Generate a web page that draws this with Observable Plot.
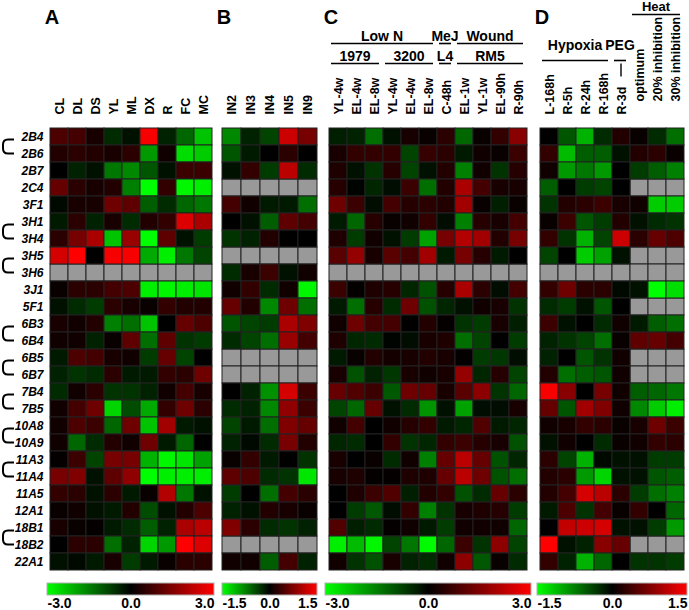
<!DOCTYPE html>
<html><head><meta charset="utf-8">
<script src="https://cdn.jsdelivr.net/npm/d3@7"></script>
<script src="https://cdn.jsdelivr.net/npm/@observablehq/plot@0.6"></script>
<style>
body{margin:0;background:#fff;}
#chart{position:relative;width:689px;height:610px;overflow:hidden;background:#fff;}
</style></head><body><div id="chart"></div><script>
// ---------- data ----------
const genes = ["2B4","2B6","2B7","2C4","3F1","3H1","3H4","3H5","3H6","3J1","5F1","6B3","6B4","6B5","6B7","7B4","7B5","10A8","10A9","11A3","11A4","11A5","12A1","18B1","18B2","22A1"];
const brackets = [["2B4","2B6"],["3H1","3H4"],["3H5","3H6"],["6B3","6B4"],["6B5","6B7"],["7B4","7B5"],["10A8","10A9"],["11A3","11A4"],["18B1","18B2"]];

const colsA = ["CL","DL","DS","YL","ML","DX","R","FC","MC"];
const colsB = ["IN2","IN3","IN4","IN5","IN9"];
const colsC = ["YL-4w","EL-4w","EL-8w","YL-4w","EL-4w","EL-8w","C-48h","EL-1w","YL-1w","EL-90h","R-90h"];
const colsD = ["L-168h","R-5h","R-24h","R-168h","R-3d","optimum","20% inhibition","30% inhibition"];

const N = null;
const valuesA = [
 [0.9,0.8,0.3,-0.5,-0.2,2.9,-0.4,-1.2,-2.3],
 [0.4,0.5,0.4,0.3,0.5,-1.8,0.2,-2.6,-2.4],
 [0.0,-0.4,-0.2,-1.4,-1.6,-1.0,-0.2,0.7,0.7],
 [1.2,0.5,0.3,0.4,-1.5,-3.0,0.6,-2.9,-2.8],
 [-0.1,0.3,0.3,1.3,1.1,-1.1,-0.5,-1.2,-1.4],
 [-0.3,0.5,-0.4,0.3,-0.5,0.4,0.6,2.6,2.0],
 [0.5,1.4,2.0,-2.3,1.8,-3.0,1.1,-0.2,-0.7],
 [2.5,3.0,0.0,2.9,2.9,-2.0,-2.8,-1.4,-0.8],
 [N,N,N,N,N,N,N,N,N],
 [0.1,0.5,0.5,0.8,0.9,-2.8,-2.9,-2.8,-2.7],
 [-0.2,-0.5,-0.7,0.5,0.3,0.1,0.6,0.4,0.4],
 [0.3,0.2,0.4,-1.5,-1.3,-2.3,0.0,1.2,0.9],
 [0.2,0.2,-0.4,0.1,1.1,-1.3,1.1,-0.6,-0.7],
 [-0.3,0.9,0.8,0.3,0.2,-0.7,1.2,-0.8,0.0],
 [-0.4,-0.6,-0.5,0.5,-0.3,-0.3,0.6,0.5,1.3],
 [-0.5,0.2,0.5,-0.6,-0.6,-0.4,0.2,0.8,0.3],
 [0.2,0.8,1.3,-2.5,-0.9,-2.0,0.6,1.3,0.5],
 [0.2,0.9,0.7,-1.2,1.3,-2.3,1.9,-0.3,-0.2],
 [0.2,-1.2,-0.5,0.4,0.2,1.3,-0.3,-1.2,0.0],
 [0.05,0.7,-0.8,1.4,1.4,-2.1,-2.9,-2.7,-1.9],
 [1.4,1.5,-0.2,1.1,1.7,-3.0,-2.8,-2.8,-2.8],
 [0.6,0.5,-0.2,0.5,-0.3,0.1,2.1,-1.4,-0.2],
 [0.1,0.2,-0.2,-0.3,0.4,-0.9,-0.2,0.4,0.9],
 [0.3,0.1,0.05,-0.3,-0.5,-1.1,-0.4,2.0,2.2],
 [0.0,0.5,0.5,-1.3,-0.4,-2.5,-1.8,3.0,2.6],
 [-0.2,-0.1,-0.3,0.3,-0.7,-0.3,0.1,0.5,0.5]
];
const valuesB = [
 [-0.8,-0.2,-0.4,1.2,0.7],
 [-0.5,-0.15,0.0,0.25,0.0],
 [-0.1,0.3,-0.35,1.1,-0.25],
 [N,N,N,N,N],
 [0.4,0.1,-0.15,-0.15,-0.65],
 [0.0,-0.1,-0.55,0.55,0.4],
 [-0.3,-0.2,0.2,0.0,0.0],
 [N,N,N,N,N],
 [-0.25,0.15,0.35,-0.1,0.1],
 [0.1,0.3,-0.25,0.1,-1.45],
 [0.6,0.2,-0.8,0.65,-0.65],
 [-0.5,-0.4,-0.35,1.0,0.75],
 [-0.25,-0.4,-0.65,0.9,0.4],
 [N,N,N,N,N],
 [N,N,N,N,N],
 [0.0,-0.2,-0.85,1.25,0.35],
 [-0.25,-0.2,-0.8,0.85,0.35],
 [-0.4,-0.15,-0.65,0.75,0.6],
 [-0.2,-0.05,-0.25,0.7,0.2],
 [0.05,0.3,-0.15,0.0,-0.3],
 [0.55,0.45,-0.25,-0.3,-1.35],
 [-0.35,0.0,-0.65,0.4,0.25],
 [-0.2,-0.1,0.2,0.15,0.05],
 [0.75,0.25,-0.25,-0.3,-0.2],
 [N,N,N,N,N],
 [0.1,0.1,-0.55,0.4,-0.2]
];
const valuesC = [
 [-0.35,-0.4,-1.3,-0.2,0.3,0.1,0.5,-1.2,0.1,0.6,1.6],
 [0.3,0.6,0.6,0.6,-0.8,0.65,0.5,-0.3,0.2,0.1,0.7],
 [0.35,-0.2,-0.6,0.45,-0.8,-0.2,0.4,-1.5,0.2,-0.6,0.45],
 [0.45,-0.05,-0.45,-0.15,0.7,-1.3,0.4,2.0,0.8,0.3,0.3],
 [1.3,0.7,-0.15,0.8,0.45,0.5,0.4,1.9,0.1,-0.35,0.1],
 [-0.3,-1.2,0.45,0.1,0.2,0.6,-0.15,-1.5,0.45,0.3,0.8],
 [0.35,-0.7,0.2,-0.2,-0.7,-1.9,1.4,2.1,1.9,0.4,1.4],
 [1.05,1.75,0.3,1.05,0.8,1.9,-0.3,1.4,0.45,-0.3,0.0],
 [N,N,N,N,N,N,N,N,N,N,N],
 [0.7,0.05,0.35,0.45,-0.45,-0.95,0.45,2.0,0.5,-0.15,0.8],
 [-0.3,-1.3,0.45,-0.5,1.3,-0.95,-0.45,-0.2,0.2,0.3,-0.6],
 [0.2,1.3,0.8,0.8,0.0,0.4,0.05,-0.6,-0.7,0.3,-0.35],
 [0.35,-0.45,-0.5,-0.05,-0.15,0.3,0.35,-1.3,-0.8,0.0,-0.7],
 [-0.3,0.1,0.4,0.25,0.3,0.4,0.3,0.05,-0.7,-0.65,-0.15],
 [0.3,-0.95,-0.4,-0.65,0.3,0.2,0.3,1.75,-0.45,0.45,-0.8],
 [1.2,0.95,0.7,-1.05,1.3,1.2,0.3,1.05,1.65,-0.6,-1.2],
 [-0.8,-1.2,1.2,-0.2,-0.5,-1.75,-0.2,-1.9,-0.15,-0.15,0.3],
 [0.2,0.8,0.0,0.2,0.45,0.6,-0.3,-0.45,0.95,-0.3,-0.45],
 [-0.45,-0.5,0.0,0.6,-0.6,-0.45,0.6,0.7,0.45,0.3,-0.95],
 [0.3,0.0,0.1,-0.5,0.2,-1.5,1.2,2.2,1.2,-0.95,-0.45],
 [0.3,0.35,0.05,0.05,0.35,0.35,1.2,2.2,1.3,-0.95,-1.3],
 [0.0,0.35,0.7,0.95,-0.35,0.4,0.6,-0.95,-0.5,1.2,0.5],
 [0.0,-0.7,-1.05,-0.15,0.6,-1.5,-0.6,0.3,0.35,0.45,-0.7],
 [0.95,-0.35,-0.5,0.05,0.2,-0.3,-0.7,0.2,0.2,0.2,-1.2],
 [-2.8,-2.2,-2.9,-0.8,-1.4,-2.95,-1.2,0.7,-0.6,1.65,-0.8],
 [0.2,-0.6,-0.95,0.3,-0.4,-0.5,0.2,1.65,-1.05,0.1,-0.5]
];
const valuesD = [
 [0.0,-0.5,-1.05,-0.25,0.2,0.05,-0.25,-0.65],
 [0.3,-1.1,-0.55,-0.55,-0.1,0.2,0.25,0.05],
 [0.1,-0.9,-0.7,-0.9,0.0,-0.35,-0.55,-0.75],
 [-0.55,0.0,-0.35,-0.4,0.0,N,N,N],
 [-0.3,0.2,0.25,0.35,0.15,0.1,-1.2,-1.2],
 [0.05,0.35,-0.5,-0.35,0.2,-0.1,-0.25,-0.3],
 [0.3,-0.3,-1.05,-0.4,1.2,0.25,0.6,0.45],
 [-0.4,0.0,-1.2,-0.95,-0.1,N,N,N],
 [N,N,N,N,N,N,N,N],
 [0.3,0.65,0.25,0.25,-0.05,-0.1,-1.5,-1.3],
 [-0.25,-0.35,-0.1,-0.5,0.0,N,N,N],
 [0.35,-0.1,0.0,-0.25,0.1,-0.15,-0.55,-0.65],
 [-0.2,-0.3,-0.4,-0.65,0.05,0.55,0.6,0.4],
 [-0.2,0.0,-0.5,-0.3,0.1,N,N,N],
 [0.2,-0.65,-0.55,-0.5,0.1,N,N,N],
 [1.45,0.8,0.0,0.7,0.1,-0.55,-0.6,-0.7],
 [0.6,-0.5,0.95,0.75,0.1,-0.8,-1.2,-1.4],
 [0.1,0.15,0.3,0.25,0.05,0.15,0.65,0.35],
 [-0.1,0.1,0.0,-0.25,0.05,0.1,0.3,0.25],
 [0.25,-0.4,-1.05,-0.05,-0.1,-0.1,-0.35,-0.35],
 [0.2,0.25,-0.9,-1.25,-0.1,-0.1,-0.5,-0.55],
 [0.2,0.4,1.25,1.1,0.25,-0.35,-0.65,-0.75],
 [-0.15,0.45,-0.3,0.4,0.05,0.3,0.0,-0.6],
 [0.0,1.15,1.2,1.25,-0.1,-0.1,-0.35,-0.9],
 [1.5,-0.1,-0.2,0.8,0.6,N,N,N],
 [0.3,-0.2,-1.05,-0.6,0.0,-0.3,-0.3,-0.35]
];
const scaleMax = {A:3, B:1.5, C:3, D:1.5};
const groupsC = [
 {label:"Low N", from:0, to:5, level:"top"},
 {label:"MeJ", from:6, to:6, level:"top"},
 {label:"Wound", from:7, to:10, level:"top"},
 {label:"1979", from:0, to:2, level:"sub"},
 {label:"3200", from:3, to:5, level:"sub"},
 {label:"L4", from:6, to:6, level:"sub"},
 {label:"RM5", from:7, to:10, level:"sub"}
];
const groupsD = [
 {label:"Heat", from:5, to:7, level:"heat"},
 {label:"Hypoxia", from:0, to:3, level:"mid"},
 {label:"PEG", from:4, to:4, level:"mid", tick:true}
];
// columns whose labels sit higher (under the "Heat" header)
const raisedD = [5, 6, 7];

// ---------- layout / style ----------
const FONT = "'Liberation Sans', Arial, Helvetica, sans-serif";
const layout = {
  A:{left:47, width:167, ml:47},
  B:{left:222, width:95, ml:4},
  C:{left:325, width:206, ml:4},
  D:{left:537, width:150, ml:4}
};
const TOP = 117, GRID_H = 463;
const levelPos = {top:{text:41, line:43.5}, sub:{text:60.5, line:63.5}, heat:{text:11, line:14.5}, mid:{text:50, line:60.5}};

const panels = [
  {id:"A", cols:colsA, values:valuesA},
  {id:"B", cols:colsB, values:valuesB},
  {id:"C", cols:colsC, values:valuesC, groups:groupsC},
  {id:"D", cols:colsD, values:valuesD, groups:groupsD, raised:raisedD}
];

const container = document.getElementById("chart");
const defs = d3.select(container).append("svg").attr("width",0).attr("height",0)
  .style("position","absolute").append("defs");

panels.forEach(p => {
  const L = layout[p.id], max = scaleMax[p.id], mr = 2;
  const raised = p.raised || [];
  const data = [];
  genes.forEach((g,i) => p.cols.forEach((c,j) => data.push({gene:g, col:j, v:p.values[i][j]})));
  const colorOpts = {type:"linear", domain:[-max,0,max], range:["#00ff00","#000000","#ff0000"], interpolate:"rgb", clamp:true};
  const labels = p.cols.map((c,j) => ({c, j}));
  const labelOpts = {x:"j", text:"c", frameAnchor:"top", rotate:-90,
      textAnchor:"start", lineAnchor:"middle", fontSize:12.5, fontWeight:"bold", fill:"black"};
  const marks = [
    Plot.cell(data.filter(d => d.v == null), {x:"col", y:"gene", fill:"#999999", stroke:"#222", strokeWidth:1, inset:0}),
    Plot.cell(data.filter(d => d.v != null), {x:"col", y:"gene", fill:"v", stroke:"#222", strokeWidth:1, inset:0}),
    Plot.text(labels.filter(d => !raised.includes(d.j)), {...labelOpts, dy:-3}),
    Plot.text(labels.filter(d => raised.includes(d.j)), {...labelOpts, dy:-16})
  ];
  if (p.id === "A") {
    marks.push(Plot.text(genes, {y:d => d, text:d => d, frameAnchor:"left", dx:-4, textAnchor:"end",
      fontSize:12, fontWeight:"bold", fontStyle:"italic", fill:"black"}));
  }
  const plot = Plot.plot({
    width: L.ml + L.width + mr, height: TOP + GRID_H + 1,
    marginTop: TOP, marginBottom: 1, marginLeft: L.ml, marginRight: mr,
    style: {background:"transparent", fontFamily: FONT, overflow:"visible"},
    x: {type:"band", domain: d3.range(p.cols.length), padding:0, axis:null},
    y: {type:"band", domain: genes, padding:0, axis:null},
    color: colorOpts,
    marks
  });
  plot.style.position = "absolute";
  plot.style.left = (L.left - L.ml) + "px";
  plot.style.top = "0px";
  container.appendChild(plot);

  const svg = d3.select(plot);
  const xs = plot.scale("x"), ys = plot.scale("y");
  const bw = xs.bandwidth;

  // panel letter
  svg.append("text").attr("x", xs.apply(0) + 2).attr("y", 24)
    .attr("font-family", FONT).attr("font-size", 20).attr("font-weight", "bold").text(p.id);

  // group headers
  (p.groups || []).forEach(g => {
    const pos = levelPos[g.level];
    const x1 = xs.apply(g.from) + 2, x2 = xs.apply(g.to) + bw - 4;
    svg.append("line").attr("x1", x1).attr("x2", x2).attr("y1", pos.line).attr("y2", pos.line)
      .attr("stroke", "black").attr("stroke-width", 1.6);
    svg.append("text").attr("x", (x1 + x2) / 2).attr("y", pos.text).attr("text-anchor", "middle")
      .attr("font-family", FONT).attr("font-size", g.level === "heat" ? 13 : 14).attr("font-weight", "bold").text(g.label);
    if (g.tick) {
      const xc = xs.apply(g.from) + bw / 2;
      svg.append("line").attr("x1", xc).attr("x2", xc).attr("y1", pos.line + 3).attr("y2", pos.line + 16)
        .attr("stroke", "black").attr("stroke-width", 1.4);
    }
  });

  // brackets
  if (p.id === "A") {
    const ybw = ys.bandwidth;
    brackets.forEach(([a, b]) => {
      const t = ys.apply(a) + ybw / 2 + 3, bt = ys.apply(b) + ybw / 2;
      svg.append("path")
        .attr("d", `M14,${t} L8,${t} Q3,${t} 3,${t+5} L3,${bt-5} Q3,${bt} 8,${bt} L14,${bt}`)
        .attr("fill", "none").attr("stroke", "black").attr("stroke-width", 2);
    });
  }

  // colorbar
  const cs = plot.scale("color");
  const gid = "grad" + p.id;
  const lg = defs.append("linearGradient").attr("id", gid).attr("x1", "0%").attr("x2", "100%");
  cs.domain.forEach((d, i) => lg.append("stop")
    .attr("offset", ((d - cs.domain[0]) / (cs.domain[cs.domain.length-1] - cs.domain[0]) * 100) + "%")
    .attr("stop-color", cs.range[i]));
  const ticks = [-max, 0, max];
  const tickText = (v, anchor) => Plot.text([v], {x:d => d, text:d => d.toFixed(1), frameAnchor:"bottom",
    lineAnchor:"top", dy:3, textAnchor:anchor, fontSize:14, fontWeight:"bold", fill:"black"});
  const bar = Plot.plot({
    width: L.width + 4, height: 28, marginLeft: 2, marginRight: 2, marginTop: 0, marginBottom: 16,
    style: {background:"transparent", fontFamily: FONT, overflow:"visible"},
    x: {domain:[-max, max], axis:null},
    y: {domain:[0, 1], axis:null},
    marks: [
      Plot.rect([{a:-max, b:max}], {x1:"a", x2:"b", y1:() => 0, y2:() => 1, fill:`url(#${gid})`, stroke:"#b0b0b0", strokeWidth:1}),
      tickText(ticks[0], "start"), tickText(ticks[1], "middle"), tickText(ticks[2], "end")
    ]
  });
  bar.style.position = "absolute";
  bar.style.left = (L.left - 2) + "px";
  bar.style.top = "583px";
  container.appendChild(bar);
});
</script></body></html>
